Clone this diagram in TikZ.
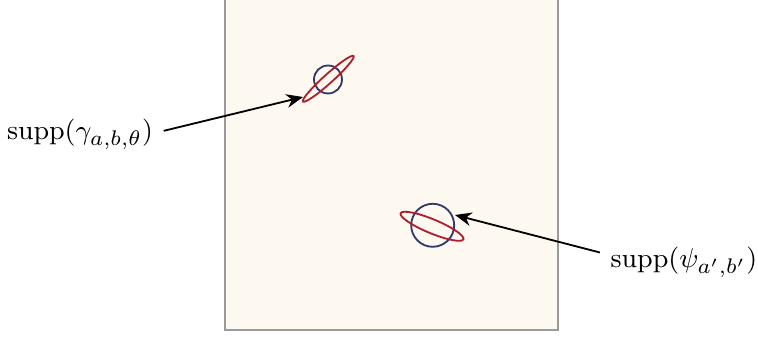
\documentclass[tikz,border=0pt]{standalone}
\usetikzlibrary{arrows.meta}
\definecolor{cream}{HTML}{FDF8F0}
\definecolor{frame}{HTML}{9A9A9A}
\definecolor{navy}{HTML}{2E3A6A}
\definecolor{wred}{HTML}{AE1F2A}
\tikzset{
  supp/.style={draw=navy,line width=0.6pt},
  freq/.style={draw=wred,line width=0.6pt},
  pointer/.style={draw=black,line width=0.6pt,-{Stealth[length=5.5pt,width=4.5pt]}},
  lbl/.style={anchor=base,font=\fontsize{9.5pt}{11pt}\selectfont},
}
\begin{document}
\begin{tikzpicture}[x=0.33pt,y=0.33pt]
\useasboundingbox (0,0) rectangle (758,339);
\clip (0,0) rectangle (758,339);
\draw[fill=cream,draw=frame,line width=0.7pt] (225,9) rectangle (558,360);
% first atom
\draw[supp] (328,259.5) circle[radius=14];
\draw[freq,rotate around={42:(328.3,260.2)}] (328.3,260.2) ellipse[x radius=34,y radius=4.5];
% second atom
\draw[supp] (432.7,113.7) circle[radius=21.5];
\draw[freq,rotate around={-22.5:(432,112.7)}] (432,112.7) ellipse[x radius=34,y radius=7];
% labels
\node[lbl] (lg) at (80,199) {$\mathrm{supp}(\gamma_{a,b,\theta})$};
\node[lbl] (lp) at (684,71) {$\mathrm{supp}(\psi_{a',b'})$};
\coordinate (tg) at (303,242);
\coordinate (tp) at (455,124);
\draw[pointer] ([yshift=1.2pt]lg.east) -- (tg);
\draw[pointer] ([yshift=3.3pt]lp.west) -- (tp);
\end{tikzpicture}
\end{document}
